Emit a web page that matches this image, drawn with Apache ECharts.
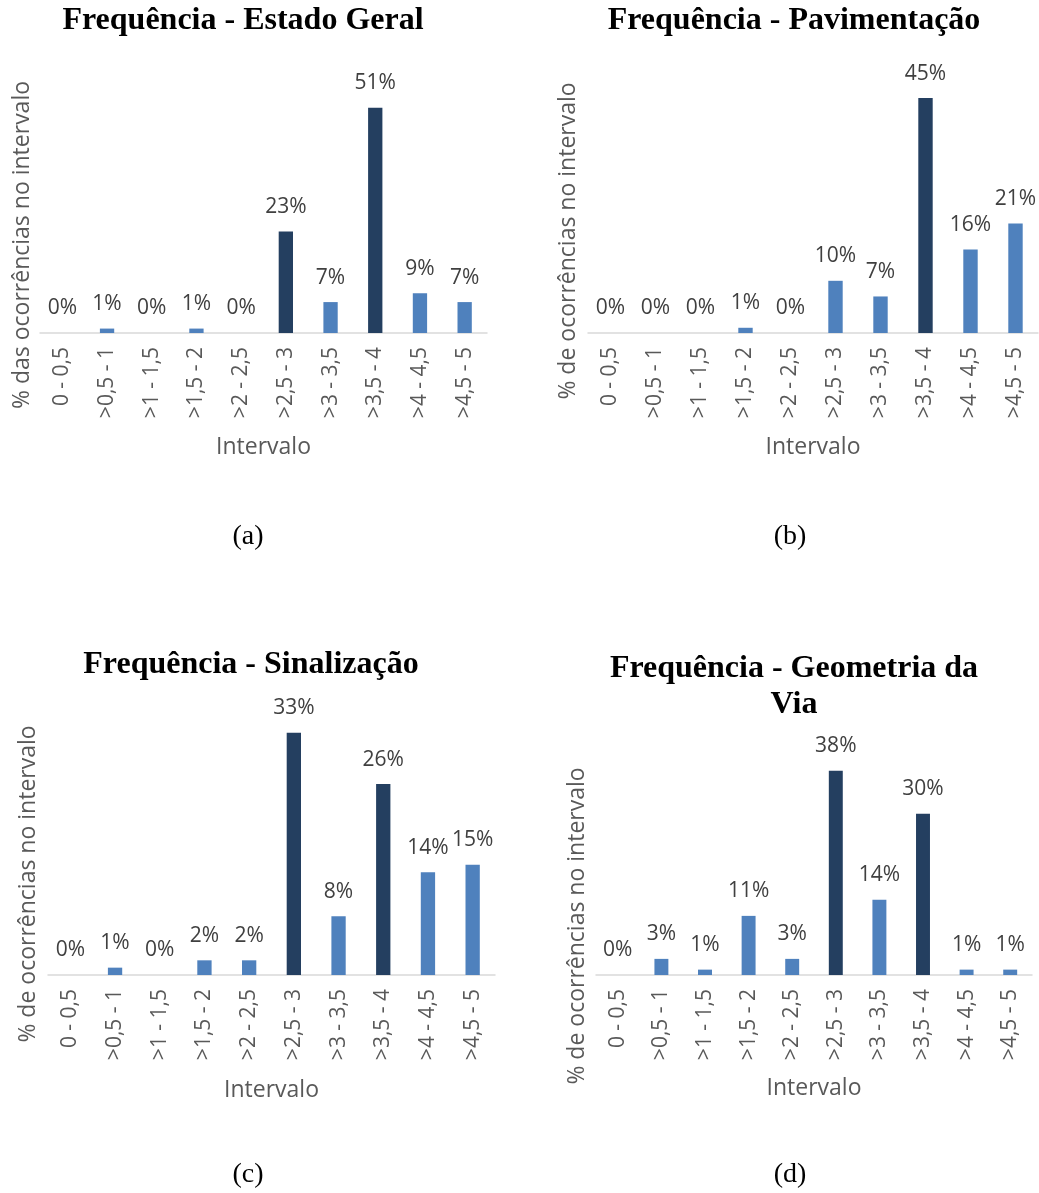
<!DOCTYPE html>
<html>
<head>
<meta charset="utf-8">
<script src="https://cdn.jsdelivr.net/npm/echarts@6/dist/echarts.min.js"></script>
<style>
  html, body { margin: 0; padding: 0; background: #ffffff; }
  #chart { width: 1039px; height: 1193px; }
</style>
</head>
<body>
<div id="chart"></div>
<script>
// Score intervals shared by all four histograms
const intervals = ['0 - 0,5', '>0,5 - 1', '>1 - 1,5', '>1,5 - 2', '>2 - 2,5',
                   '>2,5 - 3', '>3 - 3,5', '>3,5 - 4', '>4 - 4,5', '>4,5 - 5'];

// Share of occurrences per interval (%)
const estadoGeral  = [0, 1, 0, 1, 0, 23, 7, 51, 9, 7];
const pavimentacao = [0, 0, 0, 1, 0, 10, 7, 45, 16, 21];
const sinalizacao  = [0, 1, 0, 2, 2, 33, 8, 26, 14, 15];
const geometria    = [0, 3, 1, 11, 3, 38, 14, 30, 1, 1];

// Intervals drawn in the darker shade
const destaqueEstadoGeral  = [5, 7];
const destaquePavimentacao = [7];
const destaqueSinalizacao  = [5, 7];
const destaqueGeometria    = [5, 7];

// Axis limits and titles
const yMax = [60, 50, 35, 40];
const titulos = ['Frequência - Estado Geral', 'Frequência - Pavimentação',
                 'Frequência - Sinalização', 'Frequência - Geometria da\nVia'];
const nomesEixoY = ['% das ocorrências no intervalo', '% de ocorrências no intervalo',
                    '% de ocorrências no intervalo', '% de ocorrências no intervalo'];
const legendas = ['(a)', '(b)', '(c)', '(d)'];
const nomeEixoX = 'Intervalo';

const SANS = '"Open Sans", "Liberation Sans", sans-serif';
const SERIF = '"Liberation Serif", "Times New Roman", serif';
const DARK = '#243F60';
const LIGHT = '#4F81BD';

const panels = [
  { data: estadoGeral,  hi: destaqueEstadoGeral,  grid: { left: 40,  top: 68,  width: 447, height: 265 },
    title: [243, 21], yName: [22, 245], caption: [248, 537], nameGap: 103 },
  { data: pavimentacao, hi: destaquePavimentacao, grid: { left: 588, top: 72,  width: 450, height: 261 },
    title: [794, 21], yName: [568, 241], caption: [790, 537], nameGap: 103 },
  { data: sinalizacao,  hi: destaqueSinalizacao,  grid: { left: 48,  top: 718, width: 447, height: 257 },
    title: [251, 665], yName: [28, 884], caption: [248, 1175], nameGap: 104 },
  { data: geometria,    hi: destaqueGeometria,    grid: { left: 596, top: 760, width: 436, height: 215 },
    title: [794, 687], yName: [577, 926], caption: [790, 1175], nameGap: 102 }
];

const grid = [], xAxis = [], yAxis = [], series = [], graphic = [];

panels.forEach((p, i) => {
  grid.push(Object.assign({ containLabel: false }, p.grid));
  xAxis.push({
    type: 'category', gridIndex: i, data: intervals,
    axisTick: { show: false },
    axisLine: { lineStyle: { color: '#D9D9D9', width: 1.5 } },
    axisLabel: { rotate: 90, interval: 0, margin: 14, fontSize: 21, color: '#595959', fontFamily: SANS },
    name: nomeEixoX, nameLocation: 'middle', nameGap: p.nameGap,
    nameTextStyle: { fontSize: 23, color: '#595959', fontFamily: SANS }
  });
  yAxis.push({ type: 'value', gridIndex: i, min: 0, max: yMax[i], show: false });
  series.push({
    type: 'bar', xAxisIndex: i, yAxisIndex: i, barWidth: '32%',
    data: p.data.map((v, k) => ({ value: v, itemStyle: { color: p.hi.includes(k) ? DARK : LIGHT } })),
    label: { show: true, position: 'top', distance: 14, formatter: '{c}%',
             fontSize: 21, color: '#404040', fontFamily: SANS },
    silent: true, animation: false
  });
  graphic.push({
    type: 'text', x: p.title[0], y: p.title[1],
    style: { text: titulos[i], align: 'center', verticalAlign: 'middle',
             font: 'bold 32px ' + SERIF, fill: '#000000', lineHeight: 36 }
  });
  graphic.push({
    type: 'text', x: p.yName[0], y: p.yName[1], rotation: Math.PI / 2,
    style: { text: nomesEixoY[i], align: 'center', verticalAlign: 'middle',
             font: '23px ' + SANS, fill: '#595959' }
  });
  graphic.push({
    type: 'text', x: p.caption[0], y: p.caption[1],
    style: { text: legendas[i], align: 'center', verticalAlign: 'middle',
             font: '28px ' + SERIF, fill: '#000000' }
  });
});

const chart = echarts.init(document.getElementById('chart'), null, { renderer: 'canvas' });
chart.setOption({
  backgroundColor: '#ffffff',
  animation: false,
  grid, xAxis, yAxis, series, graphic
});
</script>
</body>
</html>
